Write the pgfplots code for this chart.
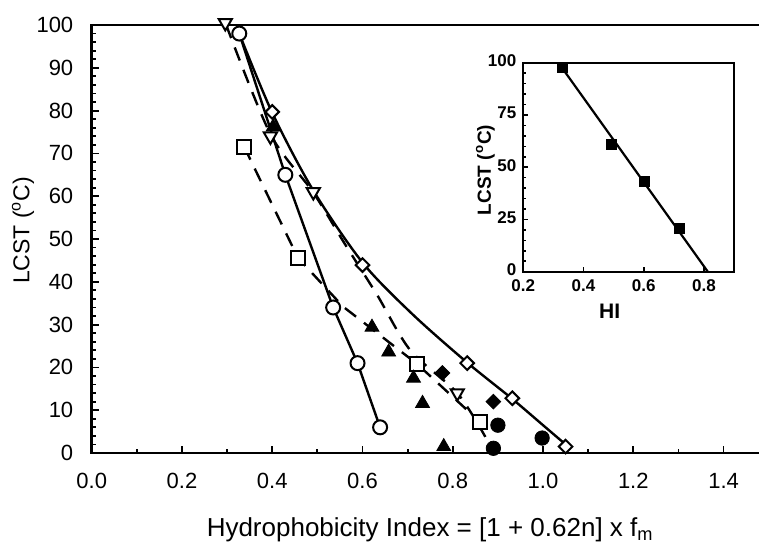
\documentclass[border=0pt]{standalone}
\usepackage{fontspec}
\setmainfont{Liberation Sans}
\usepackage{pgfplots}
\pgfplotsset{compat=1.18}
\begin{document}
\begin{tikzpicture}
\path[use as bounding box] (-45.85pt,-45pt) rectangle (333.65pt,226.5pt);
\begin{axis}[
  at={(0pt,0pt)}, anchor=south west,
  scale only axis, width=338.5pt, height=214pt,
  xmin=0, xmax=1.5, ymin=0, ymax=100,
  xtick={0,0.2,0.4,0.6,0.8,1.0,1.2,1.4},
  ytick={0,10,20,30,40,50,60,70,80,90,100},
  minor x tick num=1, minor y tick num=4,
  tick pos=left, tick align=inside,
  major tick length=3.5pt, minor tick length=2pt,
  axis line style={line width=1.2pt},
  every tick/.style={line width=0.9pt, black},
  /pgf/number format/assume math mode=true,
  xticklabel style={/pgf/number format/fixed, /pgf/number format/fixed zerofill, /pgf/number format/precision=1, yshift=-6.5pt},
  yticklabel style={xshift=-5.7pt},
  tick label style={font=\fontsize{11}{13}\selectfont},
  xlabel={Hydrophobicity Index = [1 + 0.62n] x f\textsubscript{m}},
  xlabel style={at={(axis description cs:0.5,-0.196)}, anchor=base, font=\fontsize{13}{15}\selectfont},
  ylabel={LCST (\textsuperscript{o}C)},
  ylabel style={at={(axis description cs:-0.1013,0.52)}, anchor=center, font=\fontsize{11.5}{13}\selectfont},
  clip=false,
]
% fitted curves
\addplot[black, line width=1.2pt, no marks] coordinates {(0.327,98) (0.429,65) (0.535,34) (0.589,21) (0.639,6)};
\addplot[black, line width=1.2pt, no marks, smooth] coordinates {(0.327,98) (0.40,79.5) (0.49,61.5) (0.60,44.5) (0.71,32.5) (0.83,21.3) (0.93,12.8) (1.0,6.5) (1.05,2)};
\addplot[black, line width=1.2pt, no marks, dash pattern=on 7pt off 5pt] coordinates {(0.338,71.5) (0.457,45.6) (0.557,34.2) (0.721,20.8) (0.861,7.2) (0.872,3.8)};
\addplot[black, line width=1.2pt, no marks, dash pattern=on 7pt off 5pt, smooth] coordinates {(0.298,100) (0.396,74.5) (0.49,61) (0.56,49) (0.632,37) (0.706,24) (0.81,14) (0.872,3.8)};
% open circles
\addplot[only marks, mark=*, mark size=3.5pt, mark options={fill=white, draw=black, line width=1pt}] coordinates {(0.327,98) (0.429,65) (0.535,34) (0.589,21) (0.639,6)};
% open squares
\addplot[only marks, mark=square*, mark size=3.5pt, mark options={fill=white, draw=black, line width=1pt}] coordinates {(0.338,71.5) (0.457,45.6) (0.721,20.8) (0.861,7.2)};
% open down triangles
\addplot[only marks, mark=triangle*, mark size=3.8pt, mark options={rotate=180, fill=white, draw=black, line width=1pt}] coordinates {(0.296,100.5) (0.396,74) (0.491,61) (0.81,14)};
% open diamonds
\addplot[only marks, mark=square*, mark size=2.4pt, mark options={rotate=45, fill=white, draw=black, line width=1pt}] coordinates {(0.40,79.7) (0.60,43.9) (0.832,21) (0.932,12.8) (1.05,1.5)};
% filled triangles
\addplot[only marks, mark=triangle*, mark size=4pt, mark options={fill=black, draw=black}] coordinates {(0.402,76.2) (0.621,29.4) (0.658,23.6) (0.713,17.5) (0.733,11.6) (0.78,1.5)};
% filled diamonds
\addplot[only marks, mark=square*, mark size=2.6pt, mark options={rotate=45, fill=black, draw=black}] coordinates {(0.777,18.7) (0.89,12)};
% filled circles
\addplot[only marks, mark=*, mark size=3.6pt, mark options={fill=black, draw=black}] coordinates {(0.90,6.5) (0.89,1.1) (0.998,3.5)};
\end{axis}
\begin{axis}[
  at={(215.8pt,90.65pt)}, anchor=south west,
  scale only axis, width=105.35pt, height=104.5pt,
  xmin=0.2, xmax=0.9, ymin=0, ymax=100,
  xtick={0.2,0.4,0.6,0.8}, ytick={0,25,50,75,100},
  minor y tick num=4,
  tick pos=left, tick align=inside,
  major tick length=2.5pt, minor tick length=1.5pt,
  axis line style={line width=1.1pt},
  every tick/.style={line width=0.8pt, black},
  /pgf/number format/assume math mode=true,
  xticklabel style={/pgf/number format/fixed, /pgf/number format/fixed zerofill, /pgf/number format/precision=1, yshift=-0.5pt},
  yticklabel style={yshift=1pt},
  tick label style={font=\bfseries\fontsize{8.5}{10}\selectfont},
  xlabel={HI},
  xlabel style={at={(axis description cs:0.41,-0.19)}, anchor=center, font=\bfseries\fontsize{10.5}{12}\selectfont},
  ylabel={LCST (\textsuperscript{o}C)},
  ylabel style={at={(axis description cs:-0.18,0.487)}, anchor=center, font=\bfseries\fontsize{9.5}{11}\selectfont},
  clip mode=individual,
]
\addplot[black, line width=1.1pt, no marks] coordinates {(0.319,99.5) (0.813,0)};
\addplot[only marks, mark=square*, mark size=2.5pt, mark options={fill=black, draw=black}] coordinates {(0.33,97.6) (0.494,60.8) (0.602,43.4) (0.72,20.5)};
\end{axis}
\end{tikzpicture}
\end{document}
